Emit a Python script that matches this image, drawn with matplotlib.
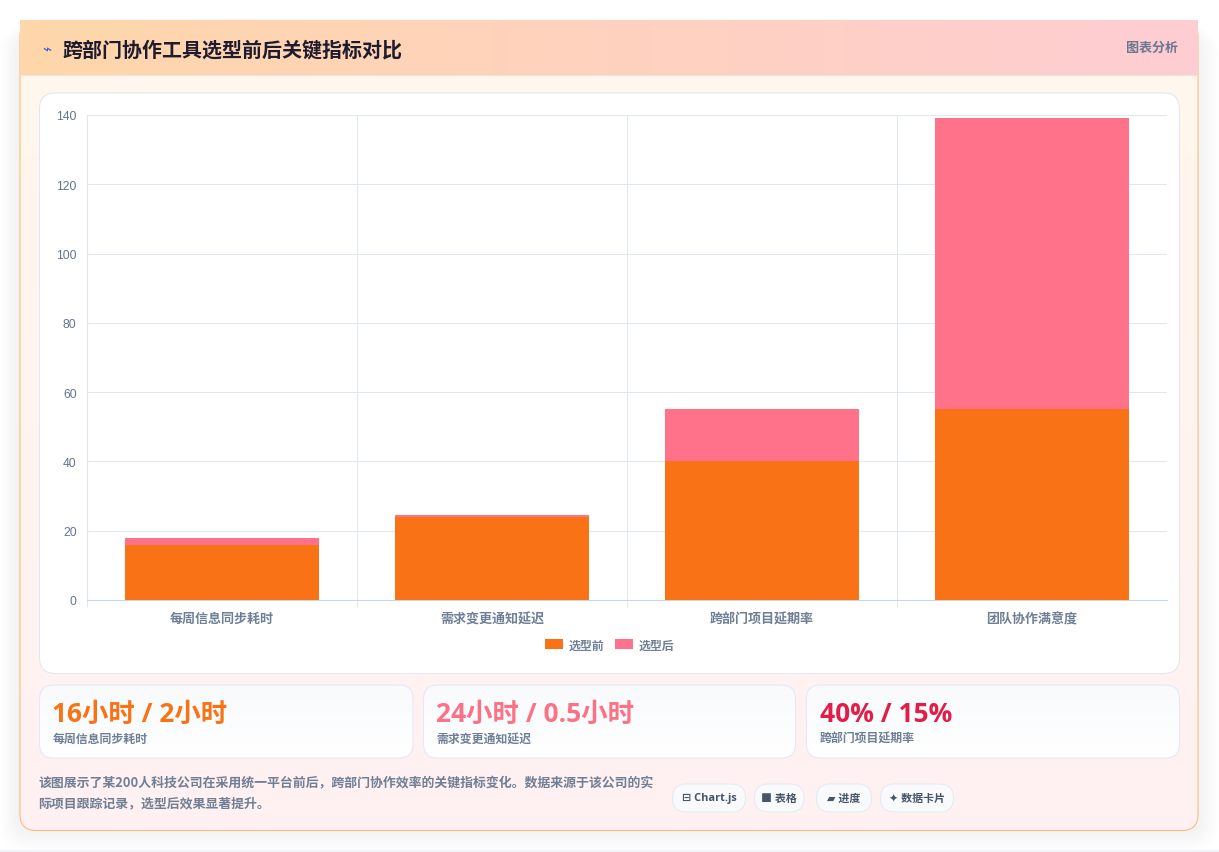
import numpy as np
import matplotlib
matplotlib.use("Agg")
import matplotlib.pyplot as plt
from matplotlib.colors import LinearSegmentedColormap
from matplotlib.patches import FancyBboxPatch, Rectangle, Patch

# Data
categories = ["每周信息同步耗时", "需求变更通知延迟", "跨部门项目延期率", "团队协作满意度"]
before = [16, 24, 40, 55]
after = [2, 0.5, 15, 84]
y_ticks = [0, 20, 40, 60, 80, 100, 120, 140]
stat_values = ["16小时 / 2小时", "24小时 / 0.5小时", "40% / 15%"]
stat_labels = ["每周信息同步耗时", "需求变更通知延迟", "跨部门项目延期率"]
stat_colors = ["#f97316", "#fb7185", "#e11d48"]
pills = ["⊟ Chart.js", "■ 表格", "▰ 进度", "✦ 数据卡片"]
title = "跨部门协作工具选型前后关键指标对比"
description = ["该图展示了某200人科技公司在采用统一平台前后，跨部门协作效率的关键指标变化。数据来源于该公司的实",
               "际项目跟踪记录，选型后效果显著提升。"]

plt.rcParams["font.family"] = ["Noto Sans CJK SC", "DejaVu Sans"]

W, H = 1219, 853
fig = plt.figure(figsize=(W / 100, H / 100), dpi=100, facecolor="#ffffff")

# Overlay in pixel coordinates for the page furniture
bg = fig.add_axes([0, 0, 1, 1], zorder=0)
bg.set_xlim(0, W)
bg.set_ylim(H, 0)
bg.axis("off")


def rbox(x0, y0, x1, y1, r, **kw):
    p = FancyBboxPatch((x0 + r, y0 + r), x1 - x0 - 2 * r, y1 - y0 - 2 * r,
                       boxstyle=f"round,pad={r},rounding_size={r}", **kw)
    bg.add_patch(p)
    return p


def gradient(extent, c0, c1, clip=None, horizontal=True, z=2):
    cmap = LinearSegmentedColormap.from_list("g", [c0, c1])
    g = np.linspace(0, 1, 256)
    g = g.reshape(1, -1) if horizontal else g.reshape(-1, 1)
    im = bg.imshow(g, extent=extent, cmap=cmap, aspect="auto", zorder=z, origin="upper")
    if clip is not None:
        im.set_clip_path(clip)
    bg.set_xlim(0, W)
    bg.set_ylim(H, 0)


# Soft shadow below the card
for i in range(14):
    grow = 26 - i * 2
    rbox(20 - grow * 0.8, 40 - grow * 0.5, 1198 + grow * 0.8, 831 + grow * 0.85, 18 + grow * 0.5,
         fc="#000000", ec="none", alpha=0.0035, zorder=1)
bg.add_patch(Rectangle((0, 851), W, 2, fc="#f1f3f6", ec="none", zorder=1))

# Card
card = rbox(20, 21.5, 1198, 831.5, 16, fc="#fff4ee", ec="none", zorder=2)
gradient((20, 1198, 832, 21), "#fff7ed", "#fff1f2", clip=card, horizontal=False)
rbox(20, 21.5, 1198, 831.5, 16, fc="none", ec="#fdba74", lw=0.75, zorder=3)

# Header
gradient((20, 1198, 75.5, 21), "#fed7aa", "#fecdd3", z=4)
bg.plot([20, 1198], [76, 76], color="#f3e3dc", lw=0.75, zorder=4)
bg.text(47, 50, "⌁", fontsize=11, color="#3b5bdb", ha="center", va="center", zorder=5,
        family="DejaVu Sans")
bg.text(62, 49.5, title, fontsize=14.4, fontweight="bold", color="#1e1b2e", va="center", zorder=5)
bg.text(1178, 48, "图表分析", fontsize=9.4, fontweight="bold", color="#6b7690", ha="right", va="center", zorder=5)

# Chart panel
rbox(39.5, 94, 1179.5, 674.5, 16, fc="#ffffff", ec="#e2e8f0", lw=0.75, zorder=3)

# Stat cards
stat_boxes = [(39.5, 413), (423.5, 795.5), (806.5, 1179.5)]
for (x0, x1), val, lab, col in zip(stat_boxes, stat_values, stat_labels, stat_colors):
    b = rbox(x0, 686, x1, 759, 14, fc="#ffffff", ec="none", zorder=3)
    gradient((x0, x1, 759, 686), "#f8fafc", "#ffffff", clip=b, horizontal=False, z=3)
    rbox(x0, 686, x1, 759, 14, fc="none", ec="#e3e8f8", lw=0.75, zorder=4)
    bg.text(x0 + 13, 714, val, fontsize=19, fontweight="bold", color=col, va="center", zorder=5,
            family=["Open Sans", "Noto Sans CJK SC"])
    bg.text(x0 + 13, 739, lab, fontsize=8.6, fontweight="bold", color="#6f7f95", va="center", zorder=5)

# Description
for y, line in zip([783, 803], description):
    bg.text(38.5, y, line, fontsize=9.3, fontweight="bold", color="#6f7f95", va="center", zorder=5)

# Pills
pill_boxes = [(672.5, 745.5), (754.5, 804), (816.5, 871.5), (880.5, 953.5)]
for (x0, x1), txt in zip(pill_boxes, pills):
    rbox(x0, 785, x1, 813, 14, fc="#f8fafc", ec="#e5eaf5", lw=0.75, zorder=3)
    bg.text((x0 + x1) / 2, 799, txt, fontsize=7.9, fontweight="bold", color="#475569",
            ha="center", va="center", zorder=5, family=["Open Sans", "Noto Sans CJK SC", "DejaVu Sans"])

# Chart axes: x 87-1167, y 115-600 px
ax = fig.add_axes([87 / W, 1 - 601 / H, 1080 / W, 485 / H], zorder=2)
ax.patch.set_alpha(0)
x = np.arange(len(categories))
ax.bar(x, before, width=0.72, color="#f97316", zorder=3, label="选型前")
ax.bar(x, after, width=0.72, bottom=before, color="#ff7289", zorder=3, label="选型后")
ax.set_xlim(-0.5, 3.5)
ax.set_ylim(0, 140)
ax.set_yticks(y_ticks)
ax.set_xticks(x)
ax.set_xticklabels(categories, fontsize=9.4, fontweight="bold", color="#6f7f95")
ax.set_xticks(np.arange(-0.5, 3.5, 1), minor=True)
ax.tick_params(axis="x", which="major", length=0, pad=8)
ax.tick_params(axis="x", which="minor", length=5, color="#e2e8f0", width=0.75)
ax.tick_params(axis="y", length=0, pad=7.5, labelcolor="#64748b", labelsize=8.7)
for lab in ax.get_yticklabels():
    lab.set_family("Liberation Sans")
ax.grid(True, axis="y", color="#e2e8f0", lw=0.75, zorder=0)
ax.grid(True, axis="x", which="minor", color="#e2e8f0", lw=0.75, zorder=0)
ax.grid(False, axis="x", which="major")
for s in ["top", "right"]:
    ax.spines[s].set_visible(False)
ax.spines["left"].set_color("#dfe4ec")
ax.spines["left"].set_linewidth(0.75)
ax.spines["bottom"].set_color("#cbd5e1")
ax.spines["bottom"].set_linewidth(0.75)

handles = [Patch(fc="#f97316", ec="none", label="选型前"), Patch(fc="#ff7289", ec="none", label="选型后")]
leg = ax.legend(handles=handles, ncol=2, loc="center", bbox_to_anchor=(0.484, -0.0925), frameon=False,
                handlelength=1.5, handleheight=0.95, handletextpad=0.5, columnspacing=0.84,
                labelcolor="#6f7f95", prop={"weight": "bold", "size": 8.6})

fig.savefig("out.png", dpi=100, facecolor=fig.get_facecolor())
